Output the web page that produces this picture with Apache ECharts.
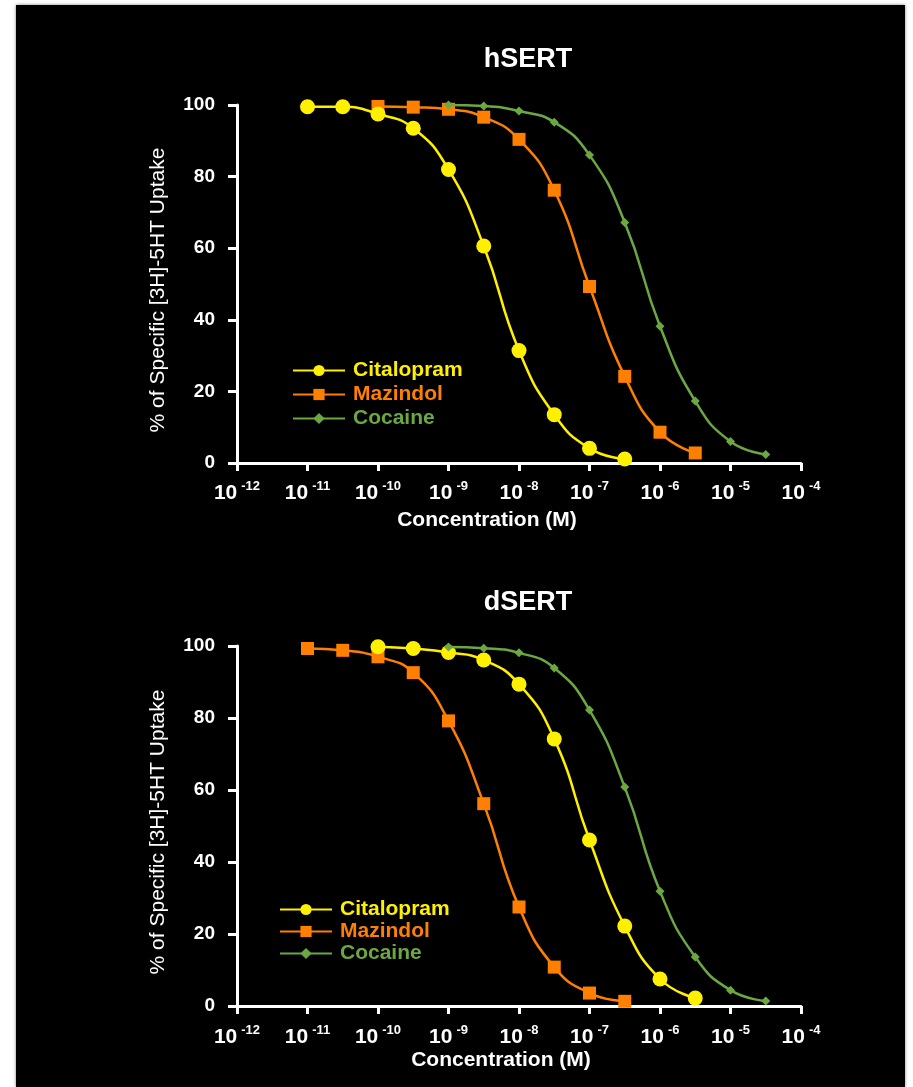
<!DOCTYPE html>
<html>
<head>
<meta charset="utf-8">
<script src="https://cdn.jsdelivr.net/npm/echarts@6/dist/echarts.min.js"></script>
<style>
  html, body { margin: 0; padding: 0; background: #fff; }
  #panel {
    position: absolute; left: 16px; top: 5px; width: 889px; height: 1082px;
    background: #000; box-shadow: 0 0 3px rgba(0,0,0,0.5);
  }
  #chart { position: absolute; left: 0; top: 0; width: 913px; height: 1087px; }
</style>
</head>
<body>
<div id="panel"></div>
<div id="chart"></div>
<script>
// log10 of concentration (M)
const xTicks = [-12, -11, -10, -9, -8, -7, -6, -5, -4];

// hSERT
const hCitalopramX = [-11, -10.5, -10, -9.5, -9, -8.5, -8, -7.5, -7, -6.5];
const hCitalopramY = [99.5, 99.5, 97.5, 93.5, 82, 60.6, 31.4, 13.5, 4.1, 1.1];
const hMazindolX = [-10, -9.5, -9, -8.5, -8, -7.5, -7, -6.5, -6, -5.5];
const hMazindolY = [99.6, 99.4, 98.8, 96.6, 90.4, 76.2, 49.3, 24.2, 8.6, 2.8];
const hCocaineX = [-9, -8.5, -8, -7.5, -7, -6.5, -6, -5.5, -5, -4.5];
const hCocaineY = [100, 99.7, 98.3, 95.2, 86, 67.2, 38.2, 17.3, 6.0, 2.4];

// dSERT
const dCitalopramX = [-10, -9.5, -9, -8.5, -8, -7.5, -7, -6.5, -6, -5.5];
const dCitalopramY = [99.8, 99.3, 98.2, 96.1, 89.4, 74.2, 46.1, 22.2, 7.5, 2.2];
const dMazindolX = [-11, -10.5, -10, -9.5, -9, -8.5, -8, -7.5, -7, -6.5];
const dMazindolY = [99.3, 98.8, 97.0, 92.6, 79.2, 56.2, 27.5, 10.8, 3.6, 1.3];
const dCocaineX = [-9, -8.5, -8, -7.5, -7, -6.5, -6, -5.5, -5, -4.5];
const dCocaineY = [99.7, 99.4, 98.1, 93.9, 82.2, 60.8, 31.9, 13.6, 4.4, 1.4];

const YELLOW = '#FFF000';
const ORANGE = '#FF7F00';
const GREEN = '#6CA842';
const FONT = '"Liberation Sans", Arial, sans-serif';

const zip = (xs, ys) => xs.map((x, i) => [x, ys[i]]);

function xAxis(gridIndex, padRight, gap, margin) {
  return {
    gridIndex, type: 'value', min: xTicks[0], max: xTicks[xTicks.length - 1], interval: 1,
    name: 'Concentration (M)', nameLocation: 'middle', nameGap: gap,
    nameTextStyle: { color: '#fff', fontSize: 21, fontWeight: 'bold', fontFamily: FONT, padding: [0, padRight, 0, 0] },
    axisLine: { lineStyle: { color: '#fff', width: 3 } },
    axisTick: { length: 8, lineStyle: { color: '#fff', width: 3 } },
    splitLine: { show: false },
    axisLabel: {
      margin,
      formatter: v => '{b|10}{s|' + v + '}',
      rich: {
        b: { color: '#fff', fontSize: 21, fontWeight: 'bold', fontFamily: FONT, lineHeight: 24, verticalAlign: 'bottom' },
        s: { color: '#fff', fontSize: 13, fontWeight: 'bold', fontFamily: FONT, lineHeight: 24, verticalAlign: 'top', padding: [0, 0, 0, 4] }
      }
    }
  };
}

function yAxis(gridIndex) {
  return {
    gridIndex, type: 'value', min: 0, max: 100, interval: 20,
    name: '% of Specific [3H]-5HT Uptake', nameLocation: 'middle', nameGap: 68,
    nameTextStyle: { color: '#fff', fontSize: 21, fontFamily: FONT, padding: [0, 12, 0, 0] },
    axisLine: { lineStyle: { color: '#fff', width: 3 } },
    axisTick: { length: 9, lineStyle: { color: '#fff', width: 3 } },
    splitLine: { show: false },
    axisLabel: { color: '#fff', fontSize: 19, fontWeight: 'bold', fontFamily: FONT, margin: 22 }
  };
}

function series(name, data, idx, color, symbol, size, z) {
  return {
    name, type: 'line', xAxisIndex: idx, yAxisIndex: idx, data,
    smooth: 0.5,
    symbol, symbolSize: size, showAllSymbol: true, z,
    lineStyle: { color, width: 2.5 },
    itemStyle: { color, borderWidth: 0 },
    emphasis: { disabled: true }
  };
}

function legend(left, top, gap) {
  return {
    orient: 'vertical', left, top, itemWidth: 52, itemHeight: 14, itemGap: gap,
    selectedMode: false,
    textStyle: { fontSize: 21, fontWeight: 'bold', fontFamily: FONT, padding: [0, 0, 0, 3] },
    data: [
      { name: 'Citalopram', textStyle: { color: YELLOW } },
      { name: 'Mazindol', textStyle: { color: ORANGE } },
      { name: 'Cocaine', textStyle: { color: GREEN } }
    ]
  };
}

const chart = echarts.init(document.getElementById('chart'));
chart.setOption({
  backgroundColor: 'transparent',
  animation: false,
  title: [
    { text: 'hSERT', left: 523, top: 41, textAlign: 'center',
      textStyle: { color: '#fff', fontSize: 27, fontWeight: 'bold', fontFamily: FONT } },
    { text: 'dSERT', left: 523, top: 584, textAlign: 'center',
      textStyle: { color: '#fff', fontSize: 27, fontWeight: 'bold', fontFamily: FONT } }
  ],
  legend: [legend(287, 355, 3), legend(274, 894, 1)],
  grid: [
    { left: 237, top: 105, width: 564, height: 358 },
    { left: 237, top: 646, width: 564, height: 360 }
  ],
  xAxis: [xAxis(0, 64, 47, 17), xAxis(1, 36, 44, 18)],
  yAxis: [yAxis(0), yAxis(1)],
  series: [
    series('Mazindol', zip(hMazindolX, hMazindolY), 0, ORANGE, 'rect', 13, 2),
    series('Citalopram', zip(hCitalopramX, hCitalopramY), 0, YELLOW, 'circle', 15, 3),
    series('Cocaine', zip(hCocaineX, hCocaineY), 0, GREEN, 'diamond', 9, 4),
    series('Mazindol', zip(dMazindolX, dMazindolY), 1, ORANGE, 'rect', 13, 2),
    series('Citalopram', zip(dCitalopramX, dCitalopramY), 1, YELLOW, 'circle', 15, 3),
    series('Cocaine', zip(dCocaineX, dCocaineY), 1, GREEN, 'diamond', 9, 4)
  ]
});
</script>
</body>
</html>
